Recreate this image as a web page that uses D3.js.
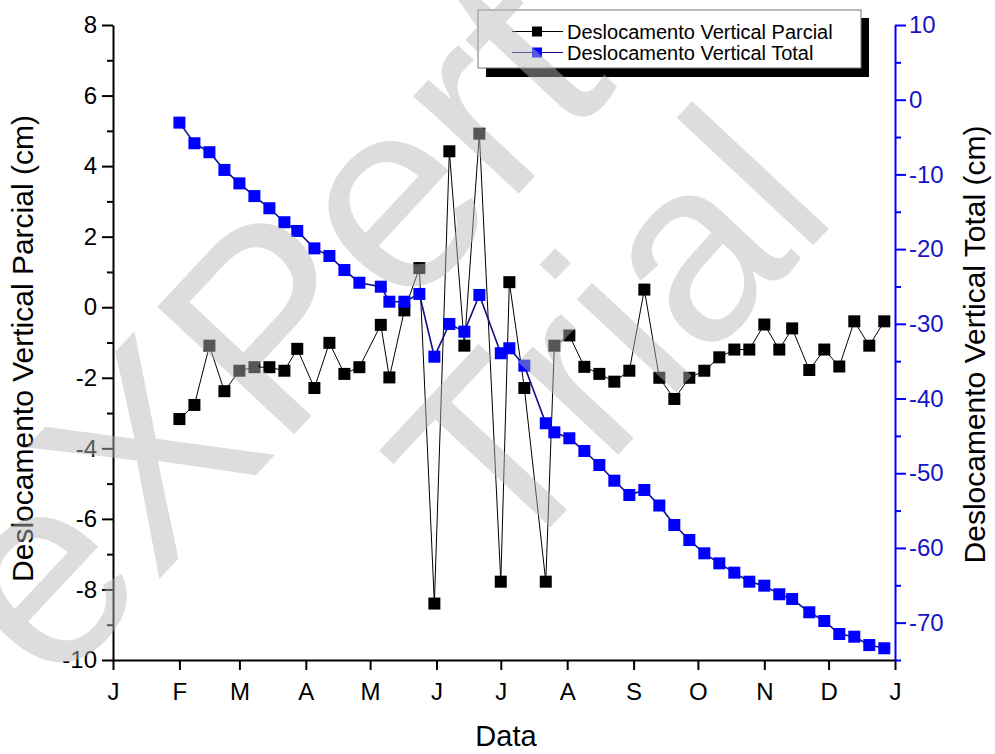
<!DOCTYPE html>
<html><head><meta charset="utf-8">
<script src="https://cdn.jsdelivr.net/npm/d3@7"></script>
<style>
body{margin:0;background:#fff;}
svg{display:block;font-family:"Liberation Sans",Arial,sans-serif;}
</style>
</head><body>
<svg id="chart" width="995" height="754"></svg>
<script>
// ---- data ----
const dates = ["2013-02-01","2013-02-08","2013-02-15","2013-02-22","2013-03-01","2013-03-08","2013-03-15","2013-03-22","2013-03-28","2013-04-05",
"2013-04-12","2013-04-19","2013-04-26","2013-05-06","2013-05-10","2013-05-17","2013-05-24","2013-05-31","2013-06-07","2013-06-14",
"2013-06-21","2013-07-01","2013-07-05","2013-07-12","2013-07-22","2013-07-26","2013-08-02","2013-08-09","2013-08-16","2013-08-23",
"2013-08-30","2013-09-06","2013-09-13","2013-09-20","2013-09-27","2013-10-04","2013-10-11","2013-10-18","2013-10-25","2013-11-01",
"2013-11-08","2013-11-14","2013-11-22","2013-11-29","2013-12-06","2013-12-13","2013-12-20","2013-12-27"];
const parcial = [-3.17,-2.77,-1.09,-2.38,-1.80,-1.70,-1.70,-1.80,-1.18,-2.29,
-1.01,-1.89,-1.70,-0.50,-1.99,-0.09,1.11,-8.40,4.42,-1.09,
4.92,-7.78,0.71,-2.29,-7.78,-1.09,-0.80,-1.69,-1.89,-2.11,
-1.80,0.50,-2.00,-2.60,-2.00,-1.80,-1.42,-1.20,-1.20,-0.49,
-1.20,-0.60,-1.78,-1.20,-1.68,-0.40,-1.09,-0.40];
const total = [-3.07,-5.83,-7.03,-9.40,-11.20,-12.90,-14.53,-16.40,-17.57,-19.90,
-20.92,-22.80,-24.50,-25.03,-27.04,-27.04,-26.00,-34.40,-30.02,-31.05,
-26.14,-33.94,-33.27,-35.60,-43.31,-44.52,-45.32,-47.02,-48.90,-51.00,
-52.91,-52.24,-54.32,-56.93,-58.94,-60.72,-62.06,-63.31,-64.52,-65.05,
-66.20,-66.83,-68.61,-69.78,-71.52,-71.88,-73.00,-73.43];
const seriesNames = ["Deslocamento Vertical Parcial","Deslocamento Vertical Total"];
const monthLabels = ["J","F","M","A","M","J","J","A","S","O","N","D","J"];
const leftMajor = [-10,-8,-6,-4,-2,0,2,4,6,8];
const leftMinor = [-9,-7,-5,-3,-1,1,3,5,7];
const rightMajor = [-70,-60,-50,-40,-30,-20,-10,0,10];
const rightMinor = [-75,-65,-55,-45,-35,-25,-15,-5,5];
const xTitle = "Data";
const yLeftTitle = "Deslocamento Vertical Parcial (cm)";
const yRightTitle = "Deslocamento Vertical Total (cm)";
const watermark = ["eXPert","Trial"];

// ---- layout ----
const L = 113, R = 895, T = 25, B = 660;
const parse = d3.timeParse("%Y-%m-%d");
const dx = dates.map(parse);
const x = d3.scaleTime().domain([new Date(2013,0,1), new Date(2014,0,1)]).range([L,R]);
const yL = d3.scaleLinear().domain([-10,8]).range([B,T]);
const yR = d3.scaleLinear().domain([-75,10]).range([B,T]);
const svg = d3.select("#chart");
const blueAxis = "#0000ff", blueText = "#1515c8";
const fmt = d => String(d);

function styleAxis(g, color, width){
  g.selectAll("path,line").attr("stroke", color).attr("stroke-width", width);
  g.selectAll("text").attr("fill", color === blueAxis ? blueText : "#000");
}
const monthTicks = d3.timeMonth.range(new Date(2013,0,1), new Date(2014,0,2));
const gx = svg.append("g").attr("transform",`translate(0,${B})`)
  .call(d3.axisBottom(x).tickValues(monthTicks).tickSize(10).tickPadding(13).tickSizeOuter(0)
    .tickFormat((d,i)=>monthLabels[i]));
gx.selectAll("text").attr("font-size",24);
styleAxis(gx,"#000",2);

const gl = svg.append("g").attr("transform",`translate(${L},0)`)
  .call(d3.axisLeft(yL).tickValues(leftMajor).tickSize(11).tickPadding(5).tickSizeOuter(0).tickFormat(fmt));
gl.selectAll("text").attr("font-size",24);
styleAxis(gl,"#000",2);
const glm = svg.append("g").attr("transform",`translate(${L},0)`)
  .call(d3.axisLeft(yL).tickValues(leftMinor).tickSize(6).tickFormat(""));
glm.select(".domain").remove();
styleAxis(glm,"#000",2);

const gr = svg.append("g").attr("transform",`translate(${R},0)`)
  .call(d3.axisRight(yR).tickValues(rightMajor).tickSize(11).tickPadding(3).tickSizeOuter(0).tickFormat(fmt));
gr.selectAll("text").attr("font-size",24);
styleAxis(gr,blueAxis,2);
const grm = svg.append("g").attr("transform",`translate(${R},0)`)
  .call(d3.axisRight(yR).tickValues(rightMinor).tickSize(6).tickFormat(""));
grm.select(".domain").remove();
styleAxis(grm,blueAxis,2);

// titles
svg.append("text").attr("transform",`translate(33,${(T+B)/2+6}) rotate(-90)`)
  .attr("text-anchor","middle").attr("font-size",30).text(yLeftTitle);
svg.append("text").attr("transform",`translate(985,${(T+B)/2+2}) rotate(-90)`)
  .attr("text-anchor","middle").attr("font-size",30).text(yRightTitle);
svg.append("text").attr("x",506).attr("y",746).attr("text-anchor","middle").attr("font-size",29).text(xTitle);

// series
const ms = 12;
const lineP = d3.line().x((d,i)=>x(dx[i])).y(d=>yL(d));
svg.append("path").datum(parcial).attr("d",lineP).attr("fill","none").attr("stroke","#000").attr("stroke-width",1);
svg.append("g").selectAll("rect").data(parcial).join("rect")
  .attr("x",(d,i)=>x(dx[i])-ms/2).attr("y",d=>yL(d)-ms/2).attr("width",ms).attr("height",ms).attr("fill","#000");

const lineT = d3.line().x((d,i)=>x(dx[i])).y(d=>yR(d));
svg.append("path").datum(total).attr("d",lineT).attr("fill","none").attr("stroke","#10108a").attr("stroke-width",1.6);
svg.append("g").selectAll("rect").data(total).join("rect")
  .attr("x",(d,i)=>x(dx[i])-ms/2).attr("y",d=>yR(d)-ms/2).attr("width",ms).attr("height",ms).attr("fill","#0000ff");

// legend
const lg = svg.append("g");
lg.append("rect").attr("x",486).attr("y",18).attr("width",383).attr("height",59).attr("fill","#000");
lg.append("rect").attr("x",478).attr("y",10).attr("width",383).attr("height",58).attr("fill","#fff").attr("stroke","#777").attr("stroke-width",1);
const legRows = [{name:seriesNames[0], line:"#000", fill:"#000", y:31.5},{name:seriesNames[1], line:"#10108a", fill:"#0000ff", y:52.5}];
legRows.forEach(r=>{
  lg.append("line").attr("x1",512).attr("x2",563).attr("y1",r.y).attr("y2",r.y).attr("stroke",r.line).attr("stroke-width",1.2);
  lg.append("rect").attr("x",532).attr("y",r.y-5).attr("width",10).attr("height",10).attr("fill",r.fill);
  lg.append("text").attr("x",567).attr("y",r.y).attr("dy","0.35em").attr("font-size",20).text(r.name);
});

// watermark
const wm = svg.append("g").attr("fill","rgb(182,182,182)").attr("fill-opacity",0.47);
wm.append("text").attr("font-size",272).attr("transform","translate(52,694) rotate(-47)").text(watermark[0]);
wm.append("text").attr("font-size",258).attr("transform","translate(505,576) rotate(-47)").text(watermark[1]);
</script>
</body></html>
